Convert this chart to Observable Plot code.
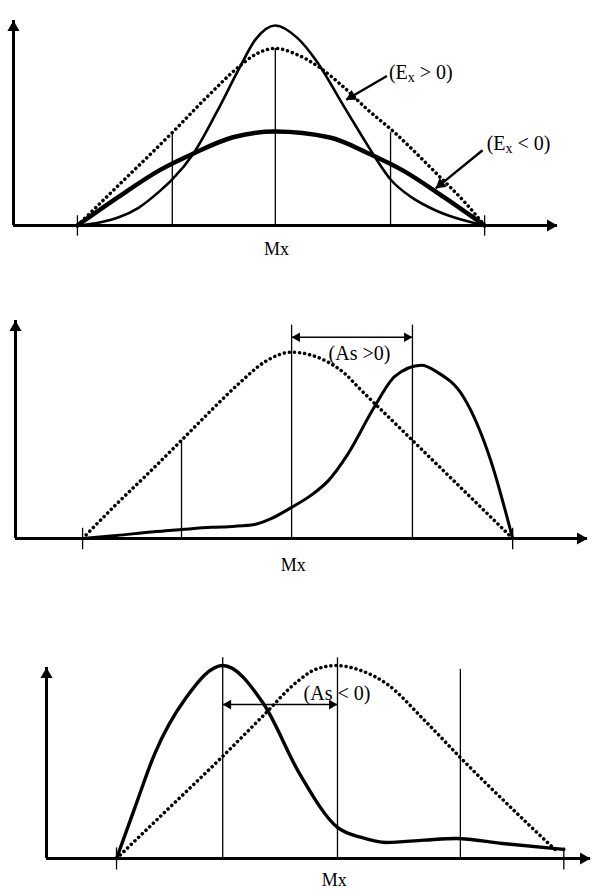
<!DOCTYPE html>
<html>
<head>
<meta charset="utf-8">
<script src="https://cdn.jsdelivr.net/npm/d3@7"></script>
<script src="https://cdn.jsdelivr.net/npm/@observablehq/plot@0.6"></script>
<style>
  body { margin: 0; background: #fff; }
  #root { width: 599px; }
  #root svg { display: block; }
</style>
</head>
<body>
<div id="root"></div>
<script>
// ---------- Panel 1: kurtosis ----------
const p1NormalX = [0, 1, 2.33, 3.2, 3.98, 4.4, 4.86, 5.4, 5.9, 6.5, 7.1, 7.79, 8.4, 8.92, 9.5, 10];
const p1NormalY = [0, 2.25, 5.25, 7.3, 9.0, 9.7, 10, 9.65, 9.0, 7.9, 6.6, 5.25, 3.9, 2.7, 1.35, 0];
const p1PeakedX = [0, 0.6, 1, 1.5, 2, 2.33, 2.85, 3.42, 3.98, 4.37, 4.86, 5.4, 5.9, 6.5, 7.0, 7.27, 7.69, 8.2, 8.8, 9.4, 10];
const p1PeakedY = [0, 0.2, 0.45, 1.0, 1.9, 2.6, 4.07, 6.4, 8.9, 10.5, 11.3, 10.6, 9.2, 6.9, 5.0, 4.0, 2.6, 1.6, 0.85, 0.35, 0];
const p1FlatX = [0, 1, 2, 2.85, 3.8, 4.86, 6.2, 7.15, 8, 9, 10];
const p1FlatY = [0, 1.6, 3.1, 4.07, 4.97, 5.31, 4.97, 4.07, 3.1, 1.6, 0];
const p1LinesX = [2.33, 4.86, 7.69];
const p1LinesTop = [5.25, 10, 5.25];
const p1Ticks = [0, 10];
const p1Mx = 4.89;
const p1Labels = ["(Ex > 0)", "(Ex < 0)"];
const p1LabelX = [7.65, 10.05];
const p1LabelY = [8.64, 4.65];
const p1PointerFromX = [7.6, 9.95];
const p1PointerFromY = [8.45, 4.25];
const p1PointerToX = [6.6, 8.8];
const p1PointerToY = [7.1, 2.1];

// ---------- Panel 2: positive asymmetry ----------
const p2NormalX = [0, 0.79, 1.55, 2.30, 3.0, 3.65, 4.25, 4.86, 5.3, 5.72, 6.1, 6.4, 7.2, 8.0, 8.86, 10];
const p2NormalY = [0, 1.85, 3.55, 5.27, 6.9, 8.35, 9.5, 10, 9.85, 9.45, 8.85, 8.14, 6.33, 4.52, 2.58, 0];
const p2SkewX = [0, 0.79, 1.6, 2.30, 3.0, 3.49, 4.0, 4.37, 4.86, 5.3, 5.72, 6.16, 6.77, 7.26, 7.88, 8.23, 8.86, 9.49, 10];
const p2SkewY = [0, 0.16, 0.35, 0.48, 0.6, 0.65, 0.75, 1.05, 1.67, 2.3, 3.12, 4.5, 7.0, 8.7, 9.3, 8.95, 7.58, 4.19, 0];
const p2LinesX = [2.30, 4.86, 7.67];
const p2LinesTop = [5.27, 11.45, 11.45];
const p2Ticks = [0, 10];
const p2Mx = 4.9;
const p2Bracket = [4.86, 7.67];
const p2BracketY = 10.8;
const p2Label = "(As >0)";
const p2LabelX = 5.72;
const p2LabelY = 9.95;

// ---------- Panel 3: negative asymmetry ----------
const p3NormalX = [0, 1.2, 2.30, 3.25, 4.0, 4.4, 4.87, 5.4, 5.97, 6.8, 7.61, 8.96, 9.78];
const p3NormalY = [0, 2.7, 5.18, 7.41, 9.17, 9.8, 10, 9.75, 9.07, 7.2, 5.23, 2.12, 0.3];
const p3SkewX = [0, 0.4, 0.84, 1.53, 2.35, 3.25, 4.05, 4.89, 5.42, 5.97, 6.8, 7.52, 8.54, 9.9];
const p3SkewY = [0, 2.6, 5.4, 8.3, 10, 8.03, 4.4, 1.61, 1.09, 0.83, 0.95, 1.04, 0.78, 0.47];
const p3LinesX = [2.35, 4.89, 7.61];
const p3LinesTop = [10.4, 10.4, 9.8];
const p3Ticks = [0, 9.9];
const p3Mx = 4.82;
const p3Bracket = [2.35, 4.89];
const p3BracketY = 7.98;
const p3Label = "(As < 0)";
const p3LabelX = 4.14;
const p3LabelY = 8.55;

const INK = "#000";
const SERIF = "Liberation Serif, Times New Roman, serif";
const pts = (xs, ys) => xs.map((x, i) => ({x, y: ys[i]}));
const DOTTED = {stroke: INK, strokeWidth: 3.5, strokeDasharray: "0.1,5", strokeLinecap: "round", curve: "monotone-x"};

function axesMarks(xMin, xMax, yMax, ticks) {
  return [
    Plot.ruleY([0], {x1: xMin, x2: xMax, stroke: INK, strokeWidth: 3}),
    Plot.ruleX([xMin], {y1: 0, y2: yMax, stroke: INK, strokeWidth: 3}),
    Plot.dot([{x: xMax, y: 0}], {x: "x", y: "y", symbol: "triangle", r: 4.5, fill: INK, stroke: null, rotate: 90, dx: -7}),
    Plot.dot([{x: xMin, y: yMax}], {x: "x", y: "y", symbol: "triangle", r: 4.5, fill: INK, stroke: null, dy: 7}),
    Plot.ruleX(ticks, {y1: -0.6, y2: 0.55, stroke: INK, strokeWidth: 1.3})
  ];
}

function vlines(xs, tops) {
  return Plot.ruleX(pts(xs, tops), {x: "x", y1: 0, y2: "y", stroke: INK, strokeWidth: 1.3});
}

function bracketMarks(xs, y) {
  const d = [{x1: xs[0], x2: xs[1], y}];
  return [
    Plot.link(d, {x1: "x1", x2: "x2", y1: "y", y2: "y", stroke: INK, strokeWidth: 1.6}),
    Plot.dot(d, {x: "x1", y: "y", symbol: "triangle", r: 3.6, fill: INK, stroke: null, rotate: -90, dx: 5.6}),
    Plot.dot(d, {x: "x2", y: "y", symbol: "triangle", r: 3.6, fill: INK, stroke: null, rotate: 90, dx: -5.6})
  ];
}

// pointer arrows with filled heads; head rotation from the panel's pixel scale
function pointerMarks(cfg, x1s, y1s, x2s, y2s) {
  const kx = (599 - cfg.ml - cfg.mr) / (cfg.xd[1] - cfg.xd[0]);
  const ky = (cfg.height - cfg.mt - cfg.mb) / (cfg.yd[1] - cfg.yd[0]);
  const d = x1s.map((x, i) => {
    const ang = Math.atan2(-(y2s[i] - y1s[i]) * ky, (x2s[i] - x) * kx);
    return {x1: x, y1: y1s[i], x2: x2s[i], y2: y2s[i], rot: ang * 180 / Math.PI + 90,
            ox: -6.3 * Math.cos(ang), oy: -6.3 * Math.sin(ang)};
  });
  return [
    Plot.link(d, {x1: "x1", y1: "y1", x2: "x2", y2: "y2", stroke: INK, strokeWidth: 2.4}),
    ...d.map(p => Plot.dot([p], {x: "x2", y: "y2", symbol: "triangle", r: 4.2, fill: INK, stroke: null, rotate: p.rot, dx: p.ox, dy: p.oy}))
  ];
}

function mxLabel(x, dy) {
  return Plot.text([{x, y: 0}], {x: "x", y: "y", text: () => "Mx", dy, fontSize: 18, fontFamily: SERIF, fill: INK});
}

function labelMark(texts, xs, ys) {
  return Plot.text(texts.map((t, i) => ({t, x: xs[i], y: ys[i]})), {
    x: "x", y: "y", text: "t", textAnchor: "start", fontSize: 20, fontFamily: SERIF, fill: INK
  });
}

function subscript(svg) {
  d3.select(svg).selectAll("text").each(function () {
    const t = this.textContent;
    const m = t.match(/^\((E)(x)(.*)$/);
    if (!m) return;
    const sel = d3.select(this);
    sel.text("");
    sel.append("tspan").text("(E");
    sel.append("tspan").attr("font-size", "14px").attr("dy", "3").text("x");
    sel.append("tspan").attr("dy", "-3").text(m[3]);
  });
  return svg;
}

function makePlot(cfg, marks) {
  return Plot.plot({
    width: 599,
    height: cfg.height,
    marginLeft: cfg.ml, marginRight: cfg.mr, marginTop: cfg.mt, marginBottom: cfg.mb,
    x: {domain: cfg.xd, axis: null},
    y: {domain: cfg.yd, axis: null},
    style: {background: "#fff", overflow: "visible", fontFamily: SERIF},
    marks
  });
}

const root = document.getElementById("root");

// Panel 1
const c1 = {height: 290, ml: 13, mr: 42, mt: 20, mb: 65, xd: [-1.57, 11.79], yd: [0, 11.58]};
const p1 = makePlot(c1, [
  vlines(p1LinesX, p1LinesTop),
  Plot.line(pts(p1NormalX, p1NormalY), {x: "x", y: "y", ...DOTTED}),
  Plot.line(pts(p1FlatX, p1FlatY), {x: "x", y: "y", curve: "monotone-x", stroke: INK, strokeWidth: 4.5}),
  Plot.line(pts(p1PeakedX, p1PeakedY), {x: "x", y: "y", curve: "monotone-x", stroke: INK, strokeWidth: 2.6}),
  ...axesMarks(c1.xd[0], c1.xd[1], c1.yd[1], p1Ticks),
  ...pointerMarks(c1, p1PointerFromX, p1PointerFromY, p1PointerToX, p1PointerToY),
  labelMark(p1Labels, p1LabelX, p1LabelY),
  mxLabel(p1Mx, 24)
]);
root.appendChild(subscript(p1));

// Panel 2
const c2 = {height: 330, ml: 15, mr: 12, mt: 30, mb: 82, xd: [-1.56, 11.74], yd: [0, 11.7]};
const p2 = makePlot(c2, [
  vlines(p2LinesX, p2LinesTop),
  Plot.line(pts(p2NormalX, p2NormalY), {x: "x", y: "y", ...DOTTED}),
  Plot.line(pts(p2SkewX, p2SkewY), {x: "x", y: "y", curve: "monotone-x", stroke: INK, strokeWidth: 3}),
  ...axesMarks(c2.xd[0], c2.xd[1], c2.yd[1], p2Ticks),
  ...bracketMarks(p2Bracket, p2BracketY),
  labelMark([p2Label], [p2LabelX], [p2LabelY]),
  mxLabel(p2Mx, 27)
]);
root.appendChild(p2);

// Panel 3
const c3 = {height: 275, ml: 46, mr: 9, mt: 47, mb: 37, xd: [-1.55, 10.49], yd: [0, 9.9]};
const p3 = makePlot(c3, [
  vlines(p3LinesX, p3LinesTop),
  Plot.line(pts(p3NormalX, p3NormalY), {x: "x", y: "y", ...DOTTED}),
  Plot.line(pts(p3SkewX, p3SkewY), {x: "x", y: "y", curve: "monotone-x", stroke: INK, strokeWidth: 3.4}),
  ...axesMarks(c3.xd[0], c3.xd[1], c3.yd[1], p3Ticks),
  ...bracketMarks(p3Bracket, p3BracketY),
  labelMark([p3Label], [p3LabelX], [p3LabelY]),
  mxLabel(p3Mx, 22)
]);
root.appendChild(p3);
</script>
</body>
</html>
